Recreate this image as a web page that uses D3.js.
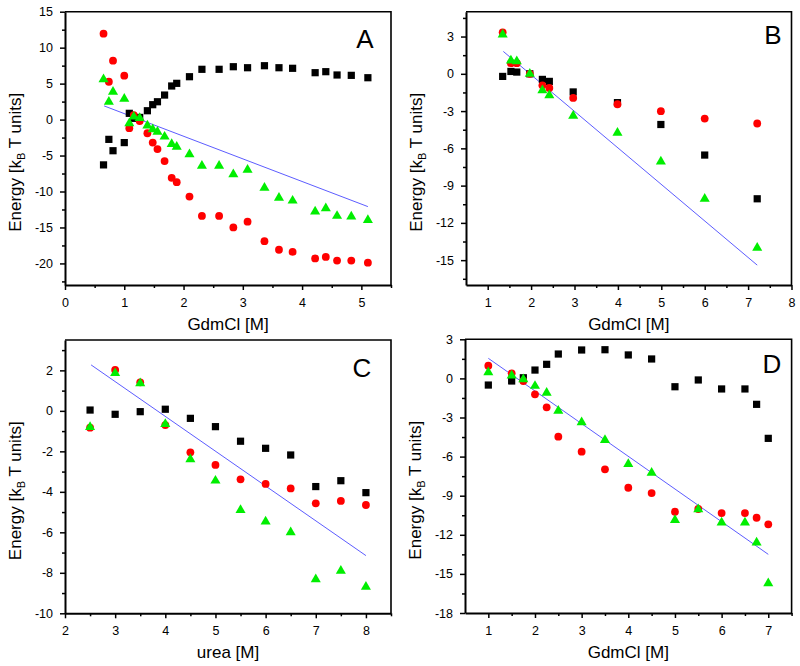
<!DOCTYPE html>
<html><head><meta charset="utf-8">
<script src="https://cdn.jsdelivr.net/npm/d3@7"></script>
<style>
body{margin:0;background:#fff;}
svg{display:block;font-family:"Liberation Sans",Arial,Helvetica,sans-serif;}
</style></head>
<body><svg id="c" width="800" height="666"></svg>
<script>
// ---------- DATA ----------
const aX = [0.65,0.74,0.81,1.0,1.085,1.16,1.26,1.39,1.48,1.56,1.68,1.80,1.885,2.10,2.31,2.60,2.84,3.08,3.365,3.61,3.84,4.22,4.40,4.59,4.83,5.11];
const aBlack = [-6.3,-2.75,-4.33,-3.2,0.87,0.17,0.3,1.23,2.07,2.48,3.41,4.67,5.04,5.96,6.99,6.99,7.35,7.21,7.49,7.21,7.13,6.52,6.66,6.2,6.15,5.82];
const aRed = [11.94,5.26,8.19,6.1,-1.2,0.63,-0.2,-1.9,-3.2,-4.1,-5.77,-8.1,-8.7,-10.7,-13.4,-13.4,-15.0,-14.2,-16.9,-18.1,-18.4,-19.3,-19.1,-19.6,-19.6,-19.9];
const aGreen = [5.6,2.48,3.87,2.9,-0.52,0.4,0.2,-0.85,-1.36,-1.69,-2.38,-3.4,-3.78,-4.84,-6.42,-6.42,-7.62,-7.0,-9.48,-10.87,-11.28,-12.8,-12.35,-13.4,-13.5,-13.97];
const aLine = [[0.66,1.9],[5.11,-12.1]];

const bX = [1.345,1.535,1.67,1.97,2.26,2.42,2.97,3.99,4.99,6.0,7.21];
const bBlack = [-0.21,0.19,0.14,0,-0.45,-0.61,-1.46,-2.32,-4.08,-6.54,-10.06];
const bRed = [3.34,0.86,0.86,0,-0.93,-1.14,-1.94,-2.45,-3.01,-3.6,-4.0];
const bGreen = [3.16,1.07,1.0,0,-1.33,-1.73,-3.39,-4.75,-7.07,-10.06,-14.0];
const bLine = [[1.36,1.8],[7.21,-15.4]];

const cX = [2.5,3,3.5,4,4.5,5,5.5,6,6.5,7,7.5,8];
const cBlack = [0.04,-0.17,-0.04,0.08,-0.37,-0.78,-1.5,-1.85,-2.18,-3.74,-3.45,-4.04];
const cRed = [-0.83,2.02,1.41,-0.7,-2.05,-2.67,-3.38,-3.61,-3.83,-4.57,-4.45,-4.65];
const cGreen = [-0.8,1.86,1.36,-0.65,-2.39,-3.45,-4.9,-5.47,-6.0,-8.32,-7.9,-8.69];
const cLine = [[2.52,2.27],[8.0,-7.15]];

const dX = [1,1.5,1.75,2,2.25,2.5,3,3.5,4,4.5,5,5.5,6,6.5,6.75,7];
const dBlack = [-0.51,-0.2,0.05,0.64,1.08,1.87,2.18,2.2,1.8,1.49,-0.64,-0.12,-0.81,-0.81,-1.99,-4.6];
const dRed = [0.97,0.39,-0.2,-1.22,-2.22,-4.47,-5.62,-6.98,-8.39,-8.8,-10.23,-10.02,-10.33,-10.33,-10.69,-11.2];
const dGreen = [0.47,0.21,-0.07,-0.58,-1.1,-2.48,-3.37,-4.73,-6.57,-7.24,-10.87,-10.05,-11.07,-11.07,-12.6,-15.73];
const dLine = [[1.0,1.54],[7.0,-13.5]];

// tick values
const aXTicks = [0,1,2,3,4,5], aXMinor = [0.5,1.5,2.5,3.5,4.5,5.5];
const aYTicks = [-20,-15,-10,-5,0,5,10,15], aYMinor = [-22.5,-17.5,-12.5,-7.5,-2.5,2.5,7.5,12.5];
const bXTicks = [1,2,3,4,5,6,7,8], bXMinor = [1.5,2.5,3.5,4.5,5.5,6.5,7.5];
const bYTicks = [-15,-12,-9,-6,-3,0,3], bYMinor = [-16.5,-13.5,-10.5,-7.5,-4.5,-1.5,1.5,4.5];
const cXTicks = [2,3,4,5,6,7,8], cXMinor = [2.5,3.5,4.5,5.5,6.5,7.5,8.5];
const cYTicks = [-10,-8,-6,-4,-2,0,2], cYMinor = [-9,-7,-5,-3,-1,1,3];
const dXTicks = [1,2,3,4,5,6,7], dXMinor = [1.5,2.5,3.5,4.5,5.5,6.5,7.5];
const dYTicks = [-18,-15,-12,-9,-6,-3,0,3], dYMinor = [-16.5,-13.5,-10.5,-7.5,-4.5,-1.5,1.5];

const panelLetters = ["A","B","C","D"];
const xTitles = ["GdmCl [M]","GdmCl [M]","urea [M]","GdmCl [M]"];

// ---------- LAYOUT ----------
const panels = [
  {x:aX,black:aBlack,red:aRed,green:aGreen,line:aLine,xd:[0,5.5],yd:[-23,15],xr:[65,391],yr:[285,11.7],
   xt:aXTicks,xm:aXMinor,yt:aYTicks,ym:aYMinor,letter:[365,48]},
  {x:bX,black:bBlack,red:bRed,green:bGreen,line:bLine,xd:[0.5,8],yd:[-17,5],xr:[466,791.5],yr:[285,11.7],
   xt:bXTicks,xm:bXMinor,yt:bYTicks,ym:bYMinor,letter:[773,44]},
  {x:cX,black:cBlack,red:cRed,green:cGreen,line:cLine,xd:[2,8.5],yd:[-10,3.5],xr:[65,391],yr:[613.3,340],
   xt:cXTicks,xm:cXMinor,yt:cYTicks,ym:cYMinor,letter:[362,377]},
  {x:dX,black:dBlack,red:dRed,green:dGreen,line:dLine,xd:[0.5,7.5],yd:[-18,3],xr:[465,791.6],yr:[613,339.3],
   xt:dXTicks,xm:dXMinor,yt:dYTicks,ym:dYMinor,letter:[772,373]}
];

const svg = d3.select("#c");
const sq = d3.symbol().type(d3.symbolSquare).size(52);
const tri = d3.symbol().type(d3.symbolTriangle).size(44);

panels.forEach((p,i)=>{
  const x = d3.scaleLinear().domain(p.xd).range(p.xr);
  const y = d3.scaleLinear().domain(p.yd).range(p.yr);
  const g = svg.append("g");
  const [x0,x1] = p.xr, [y0,y1] = p.yr; // y0 bottom, y1 top

  // box top/right
  g.append("path").attr("d",`M${x0},${y1}H${x1}V${y0}`).attr("fill","none").attr("stroke","#000").attr("stroke-width",1.6);

  // minor ticks
  g.append("g").attr("transform",`translate(0,${y0})`)
    .call(d3.axisBottom(x).tickValues(p.xm).tickSize(3).tickFormat("").tickSizeOuter(0))
    .call(s=>s.select(".domain").remove()).selectAll("line").attr("stroke-width",1.5);
  g.append("g").attr("transform",`translate(${x0},0)`)
    .call(d3.axisLeft(y).tickValues(p.ym).tickSize(3).tickFormat("").tickSizeOuter(0))
    .call(s=>s.select(".domain").remove()).selectAll("line").attr("stroke-width",1.5);

  // major axes
  const xa = g.append("g").attr("transform",`translate(0,${y0})`)
    .call(d3.axisBottom(x).tickValues(p.xt).tickSize(5).tickPadding(8).tickFormat(d=>String(d)).tickSizeOuter(0));
  const ya = g.append("g").attr("transform",`translate(${x0},0)`)
    .call(d3.axisLeft(y).tickValues(p.yt).tickSize(5).tickPadding(7).tickFormat(d=>String(d)).tickSizeOuter(0));
  [xa,ya].forEach(a=>{
    a.select(".domain").attr("stroke-width",2);
    a.selectAll(".tick line").attr("stroke-width",1.5);
    a.selectAll("text").attr("font-size",12.5).attr("fill","#000")
      .attr("font-family",'"Liberation Sans",Arial,sans-serif');
  });

  // fit line
  g.append("path").datum(p.line)
    .attr("d",d3.line().x(d=>x(d[0])).y(d=>y(d[1])))
    .attr("fill","none").attr("stroke","#4a4aff").attr("stroke-width",0.9);

  const pts = p.x.map((v,k)=>({x:v,b:p.black[k],r:p.red[k],g:p.green[k]}));
  g.selectAll(".sq").data(pts).join("path")
    .attr("d",sq).attr("transform",d=>`translate(${x(d.x)},${y(d.b)})`).attr("fill","#000");
  g.selectAll(".ci").data(pts).join("circle")
    .attr("cx",d=>x(d.x)).attr("cy",d=>y(d.r)).attr("r",3.9).attr("fill","#ff0000");
  g.selectAll(".tr").data(pts).join("path")
    .attr("d",tri).attr("transform",d=>`translate(${x(d.x)},${y(d.g)})`).attr("fill","#00ee00");

  // letter
  g.append("text").attr("x",p.letter[0]).attr("y",p.letter[1]).attr("text-anchor","middle")
    .attr("font-size",26).text(panelLetters[i]);

  // x title
  g.append("text").attr("x",(x0+x1)/2).attr("y",y0+45).attr("text-anchor","middle")
    .attr("font-size",17).text(xTitles[i]);

  // y title
  const yt = g.append("text").attr("transform",`translate(${x0-44},${(y0+y1)/2+14}) rotate(-90)`)
    .attr("text-anchor","middle").attr("font-size",17);
  yt.append("tspan").text("Energy [k");
  yt.append("tspan").attr("font-size",11).attr("dy",4).text("B");
  yt.append("tspan").attr("dy",-4).text(" T units]");
});
</script>
</body></html>
